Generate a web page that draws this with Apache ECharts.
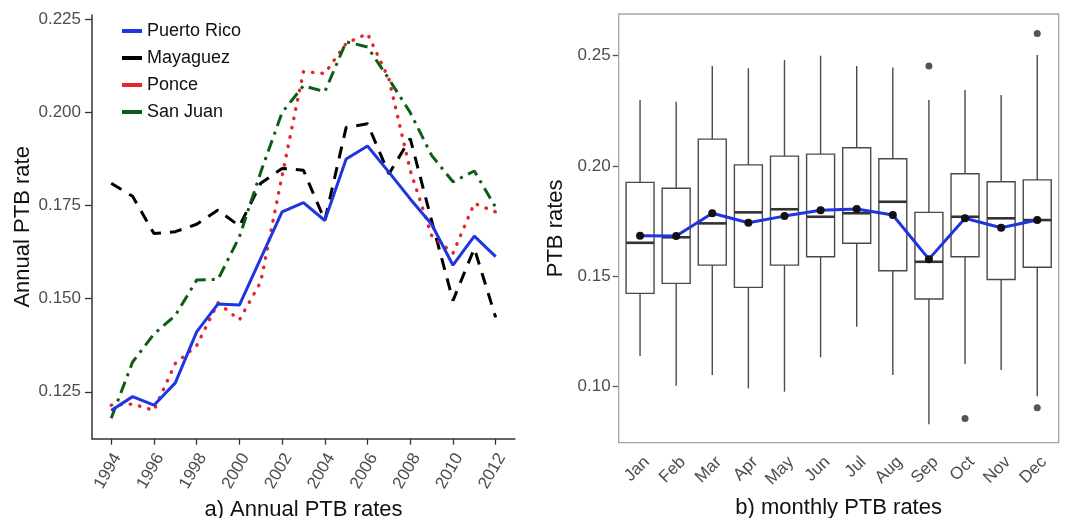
<!DOCTYPE html>
<html>
<head>
<meta charset="utf-8">
<script src="https://cdn.jsdelivr.net/npm/echarts@6/dist/echarts.min.js"></script>
<style>
  html, body { margin: 0; padding: 0; background: #fff; }
  #chart { width: 1071px; height: 518px; }
</style>
</head>
<body>
<div id="chart"></div>
<script>
// a) annual rates by region
const years = [1994, 1995, 1996, 1997, 1998, 1999, 2000, 2001, 2002, 2003,
               2004, 2005, 2006, 2007, 2008, 2009, 2010, 2011, 2012];
const puertoRico = [0.1200, 0.1237, 0.1214, 0.1274, 0.1411, 0.1486, 0.1483, 0.1608, 0.1733, 0.1758,
                    0.1710, 0.1875, 0.1910, 0.1840, 0.1768, 0.1700, 0.1590, 0.1668, 0.1613];
const mayaguez = [0.1810, 0.1775, 0.1675, 0.1680, 0.1700, 0.1738, 0.1695, 0.1810, 0.1850, 0.1845,
                  0.1710, 0.1960, 0.1970, 0.1835, 0.1930, 0.1710, 0.1495, 0.1635, 0.1450];
const ponce = [0.1214, 0.1217, 0.1200, 0.1326, 0.1374, 0.1489, 0.1443, 0.1545, 0.1830, 0.2110,
               0.2105, 0.2186, 0.2212, 0.2090, 0.1845, 0.1670, 0.1622, 0.1756, 0.1733];
const sanJuan = [0.1179, 0.1330, 0.1405, 0.1455, 0.1550, 0.1552, 0.1666, 0.1840, 0.2000, 0.2072,
                 0.2056, 0.2190, 0.2176, 0.2090, 0.2000, 0.1885, 0.1814, 0.1843, 0.1745];
const yearTicks = [1994, 1996, 1998, 2000, 2002, 2004, 2006, 2008, 2010, 2012];
const annualTicks = [0.125, 0.150, 0.175, 0.200, 0.225];

// b) monthly boxplots
const months = ['Jan', 'Feb', 'Mar', 'Apr', 'May', 'Jun', 'Jul', 'Aug', 'Sep', 'Oct', 'Nov', 'Dec'];
const whiskerLow = [0.1139, 0.1004, 0.1053, 0.0992, 0.0977, 0.1133, 0.1272, 0.1053, 0.0830, 0.1103, 0.1075, 0.0957];
const q1 = [0.1423, 0.1468, 0.1551, 0.1450, 0.1551, 0.1589, 0.1650, 0.1525, 0.1397, 0.1589, 0.1486, 0.1541];
const median = [0.1652, 0.1677, 0.1740, 0.1790, 0.1804, 0.1770, 0.1786, 0.1838, 0.1566, 0.1770, 0.1763, 0.1755];
const q3 = [0.1926, 0.1899, 0.2122, 0.2005, 0.2045, 0.2054, 0.2083, 0.2033, 0.1790, 0.1965, 0.1929, 0.1937];
const whiskerHigh = [0.2299, 0.2291, 0.2453, 0.2443, 0.2480, 0.2500, 0.2453, 0.2447, 0.2299, 0.2345, 0.2322, 0.2503];
const monthMeans = [0.1684, 0.1683, 0.1786, 0.1743, 0.1773, 0.1800, 0.1805, 0.1778, 0.1578, 0.1763, 0.1720, 0.1755];
const outliers = [['Sep', 0.2453], ['Oct', 0.0856], ['Dec', 0.2601], ['Dec', 0.0904]];
const monthlyTicks = [0.10, 0.15, 0.20, 0.25];

const chart = echarts.init(document.getElementById('chart'));
const font = 'Liberation Sans, Arial, sans-serif';
const tickText = { fontSize: 17, color: '#4d4d4d', fontFamily: font };
const titleText = { fontSize: 22, color: '#111', fontFamily: font };

const zip = vals => years.map((y, i) => [y, vals[i]]);
const boxData = months.map((m, i) => [i, whiskerLow[i], q1[i], median[i], q3[i], whiskerHigh[i]]);

function renderBox(params, api) {
    const idx = api.value(0);
    const low = api.coord([idx, api.value(1)]);
    const lo = api.coord([idx, api.value(2)]);
    const med = api.coord([idx, api.value(3)]);
    const hi = api.coord([idx, api.value(4)]);
    const high = api.coord([idx, api.value(5)]);
    const half = api.size([1, 0])[0] * 0.775 / 2;
    const x = low[0];
    const stroke = { stroke: '#4a4a4a', lineWidth: 1.4, fill: null };
    return {
        type: 'group',
        children: [
            { type: 'line', shape: { x1: x, y1: low[1], x2: x, y2: lo[1] }, style: stroke },
            { type: 'line', shape: { x1: x, y1: hi[1], x2: x, y2: high[1] }, style: stroke },
            { type: 'rect', shape: { x: x - half, y: hi[1], width: half * 2, height: lo[1] - hi[1] },
              style: { stroke: '#4a4a4a', lineWidth: 1.4, fill: '#fff' } },
            { type: 'line', shape: { x1: x - half, y1: med[1], x2: x + half, y2: med[1] },
              style: { stroke: '#333', lineWidth: 2.6 } }
        ]
    };
}

const option = {
    animation: false,
    backgroundColor: '#fff',
    textStyle: { fontFamily: font },
    graphic: [{
        type: 'rect',
        shape: { x: 618.7, y: 14, width: 440, height: 428.7 },
        style: { fill: 'none', stroke: '#a6a6a6', lineWidth: 1.3 },
        z: 1
    }],
    legend: {
        data: ['Puerto Rico', 'Mayaguez', 'Ponce', 'San Juan'],
        orient: 'vertical',
        left: 117,
        top: 17,
        icon: 'rect',
        itemWidth: 20,
        itemHeight: 4,
        itemGap: 9,
        textStyle: { fontSize: 18, color: '#111', fontFamily: font, lineHeight: 18 }
    },
    grid: [
        { left: 92, right: 556.1, top: 15, bottom: 79.3, outerBoundsMode: 'none', containLabel: false },
        { left: 622, right: 15.7, top: 14, bottom: 75.3, outerBoundsMode: 'none', containLabel: false }
    ],
    xAxis: [{
        type: 'value',
        gridIndex: 0,
        min: 1993.1,
        max: 2012.9,
        name: 'a) Annual PTB rates',
        nameLocation: 'middle',
        nameGap: 56,
        nameTextStyle: titleText,
        axisLine: { lineStyle: { color: '#333', width: 1.5 } },
        axisTick: { customValues: yearTicks, length: 6, lineStyle: { color: '#333', width: 1.3 } },
        axisLabel: Object.assign({ customValues: yearTicks, rotate: 60, margin: 12.5,
                                   verticalAlign: 'top', lineHeight: 14,
                                   formatter: v => String(v) }, tickText),
        splitLine: { show: false }
    }, {
        type: 'category',
        gridIndex: 1,
        data: months,
        name: 'b) monthly PTB rates',
        nameLocation: 'middle',
        nameGap: 54,
        nameTextStyle: titleText,
        axisLine: { show: false },
        axisTick: { alignWithLabel: true, length: 5, lineStyle: { color: '#555', width: 1.3 } },
        axisLabel: Object.assign({ rotate: 45, margin: 10, verticalAlign: 'top', lineHeight: 19,
                                   interval: 0 }, tickText),
        splitLine: { show: false }
    }],
    yAxis: [{
        type: 'value',
        gridIndex: 0,
        min: 0.1124,
        max: 0.2262,
        name: 'Annual PTB rate',
        nameLocation: 'middle',
        nameGap: 58,
        nameTextStyle: titleText,
        axisLine: { show: true, lineStyle: { color: '#333', width: 1.5 } },
        axisTick: { show: true, customValues: annualTicks, length: 7, lineStyle: { color: '#333', width: 1.3 } },
        axisLabel: Object.assign({ customValues: annualTicks, margin: 11, formatter: v => v.toFixed(3) }, tickText),
        splitLine: { show: false }
    }, {
        type: 'value',
        gridIndex: 1,
        min: 0.0746,
        max: 0.2689,
        offset: 3.3,
        name: 'PTB rates',
        nameLocation: 'middle',
        nameGap: 52,
        nameTextStyle: titleText,
        axisLine: { show: false },
        axisTick: { show: true, customValues: monthlyTicks, length: 6, lineStyle: { color: '#555', width: 1.3 } },
        axisLabel: Object.assign({ customValues: monthlyTicks, margin: 8, formatter: v => v.toFixed(2) }, tickText),
        splitLine: { show: false }
    }],
    series: [{
        name: 'Mayaguez',
        type: 'line',
        data: zip(mayaguez),
        symbol: 'none',
        color: '#000',
        lineStyle: { color: '#000', width: 3, type: [12, 9] },
        z: 2
    }, {
        name: 'Ponce',
        type: 'line',
        data: zip(ponce),
        symbol: 'none',
        color: '#e4262b',
        lineStyle: { color: '#e4262b', width: 3.4, type: [0.5, 9], cap: 'round' },
        z: 3
    }, {
        name: 'San Juan',
        type: 'line',
        data: zip(sanJuan),
        symbol: 'none',
        color: '#0c5e12',
        lineStyle: { color: '#0c5e12', width: 3, type: [12, 6, 3, 6] },
        z: 3
    }, {
        name: 'Puerto Rico',
        type: 'line',
        data: zip(puertoRico),
        symbol: 'none',
        color: '#1f35e0',
        lineStyle: { color: '#1f35e0', width: 3 },
        z: 4
    }, {
        type: 'custom',
        xAxisIndex: 1,
        yAxisIndex: 1,
        data: boxData,
        encode: { x: 0, y: [1, 2, 3, 4, 5] },
        renderItem: renderBox,
        z: 2
    }, {
        type: 'scatter',
        xAxisIndex: 1,
        yAxisIndex: 1,
        data: outliers,
        symbol: 'circle',
        symbolSize: 7,
        itemStyle: { color: '#2b2b2b' },
        z: 3
    }, {
        type: 'line',
        xAxisIndex: 1,
        yAxisIndex: 1,
        data: monthMeans,
        symbol: 'circle',
        symbolSize: 8,
        showSymbol: true,
        itemStyle: { color: '#111', borderWidth: 0 },
        lineStyle: { color: '#1f35e0', width: 3 },
        z: 4
    }]
};

chart.setOption(option);
</script>
</body>
</html>
